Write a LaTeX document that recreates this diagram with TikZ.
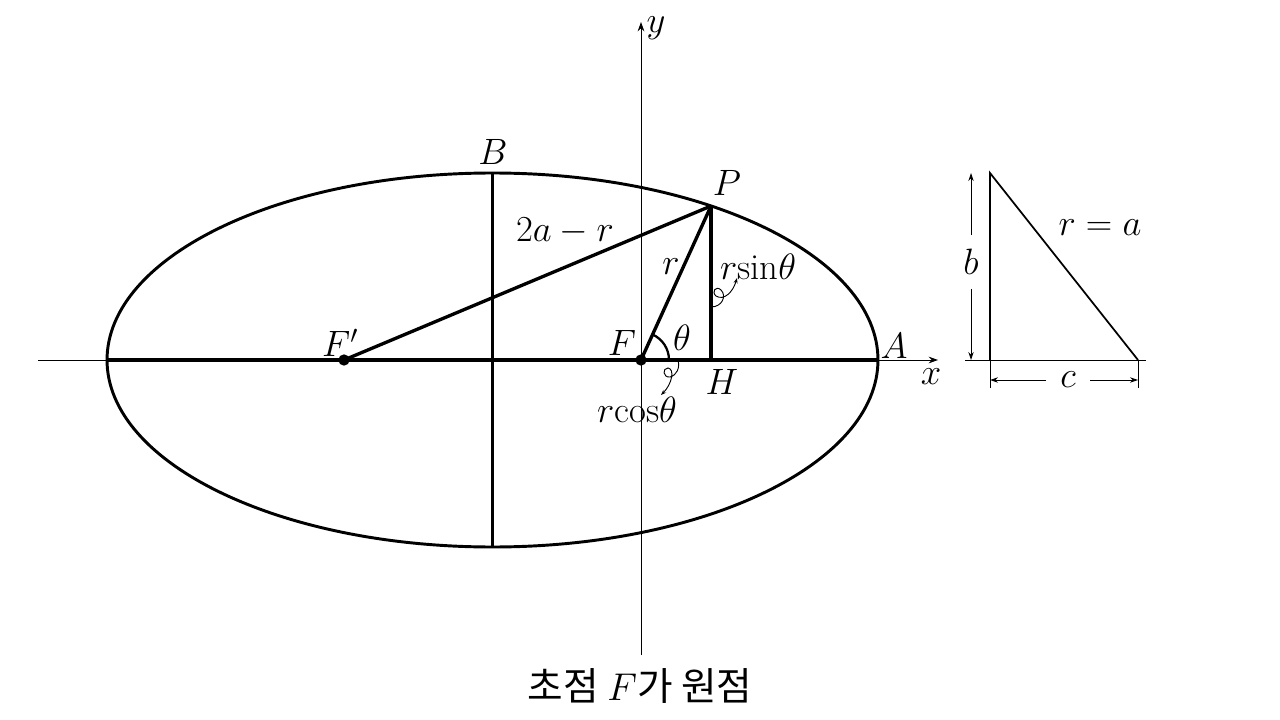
\RequirePackage{fix-cm}
\documentclass[tikz,border=0pt]{standalone}
\usepackage{fontspec}
\newfontfamily\kr{Noto Sans CJK KR}
\usetikzlibrary{arrows.meta}
\begin{document}
\begin{tikzpicture}[x=0.75pt,y=-0.75pt,
  thin line/.style={line width=0.7pt},
  thick line/.style={line width=2.5pt},
  lbl/.style={inner sep=0pt,font=\fontsize{27.5}{32}\selectfont},
  tip/.style={-{Stealth[length=7pt,width=5pt]}},
  smalltip/.style={-{Stealth[length=4pt,width=3pt,open]}},
  dot/.style={circle,fill=black,inner sep=0pt,minimum size=8.5pt}]
\useasboundingbox[fill=white] (0,0) rectangle (1280,720);
% coordinates
\coordinate (C) at (492.5,360);
\coordinate (Lx) at (38,360);
\coordinate (Rx) at (938,360);
\coordinate (Yb) at (641,655);
\coordinate (Yt) at (641,22);
\coordinate (Aend) at (878,360);
\coordinate (Lend) at (107,360);
\coordinate (Btop) at (492.5,173);
\coordinate (Bbot) at (492.5,547);
\coordinate (P) at (711,206);
\coordinate (H) at (711,360);
\coordinate (arcstart) at (669,360);
\node[dot] (Fp) at (344,360) {};
\node[dot] (F) at (641,360) {};
% axes
\draw[thin line,tip] (Lx) -- (Rx);
\draw[thin line,tip] (Yb) -- (Yt);
% ellipse
\draw[line width=2.2pt] (C) ellipse [x radius=289.1pt, y radius=140.25pt];
% axes of ellipse
\draw[thick line] (Lend) -- (Aend);
\draw[thick line] (Btop) -- (Bbot);
% triangle lines
\draw[thick line] (Fp.center) -- (P);
\draw[thick line] (F.center) -- (P);
\draw[thick line] (P) -- (H);
% angle arc
\draw[line width=1.7pt] (arcstart) arc[start angle=0,end angle=65.6,radius=21pt];
% curly arrows
\coordinate (s0) at (711,307);
\coordinate (s1) at (737,278);
\draw[line width=0.7pt,smalltip] (s0) .. controls (722,307) and (727,296) .. (721,290)
  .. controls (716,285) and (711,292) .. (716,296)
  .. controls (724,301) and (733,292) .. (s1);
\coordinate (c0) at (678,360);
\coordinate (c1) at (661,395);
\draw[line width=0.7pt,smalltip] (c0) .. controls (680,368) and (677,375) .. (670,377)
  .. controls (663,378) and (662,368) .. (668,368)
  .. controls (675,369) and (672,384) .. (c1);
% labels
\node[lbl] (lB) at (493,152) {$B$};
\node[lbl] (lP) at (727,183) {$P$};
\node[lbl] (l2ar) at (565,231) {$2a-r$};
\node[lbl] (lr) at (671,267) {$r$};
\node[lbl] (lrsin) at (758,267) {$r\mathrm{sin}\theta$};
\node[lbl] (lF) at (622,343) {$F$};
\node[lbl] (lth) at (682,338) {$\theta$};
\node[lbl] (lA) at (894,346) {$A$};
\node[lbl] (lx) at (931,377) {$x$};
\node[lbl] (lH) at (722,382) {$H$};
\node[lbl] (lrcos) at (637,410) {$r\mathrm{cos}\theta$};
\node[lbl] (lFp) at (340,343) {$F'$};
\node[lbl] (ly) at (656,28) {$y$};
% side triangle
\coordinate (T0) at (990,360);
\coordinate (Ttop) at (990,173);
\coordinate (Tr) at (1138,360);
\coordinate (Bl) at (965,360);
\coordinate (Br) at (1146,360);
\draw[thin line] (Bl) -- (Br);
\draw[line width=1.3pt] (T0) -- (Ttop) -- (Tr);
\draw[thin line] (T0) -- (990,388);
\draw[thin line] (Tr) -- (1138,388);
\node[lbl] (lb) at (971,262) {$b$};
\node[lbl] (lc) at (1068,380) {$c$};
\node[lbl] (lra) at (1100,228) {$r=a$};
\draw[thin line,-{Stealth[length=6pt,width=4pt]}] (lb.north) ++(0,-14) -- (971,173);
\draw[thin line,-{Stealth[length=6pt,width=4pt]}] (lb.south) ++(0,14) -- (971,360);
\draw[thin line,-{Stealth[length=6pt,width=4pt]}] (lc.west) ++(-14,0) -- (990,380);
\draw[thin line,-{Stealth[length=6pt,width=4pt]}] (lc.east) ++(14,0) -- (1138,380);
% caption
\node[inner sep=0pt,font=\fontsize{29}{34}\selectfont] (cap) at (640,686) {\kr 초점 $F$가 원점};
\end{tikzpicture}
\end{document}
